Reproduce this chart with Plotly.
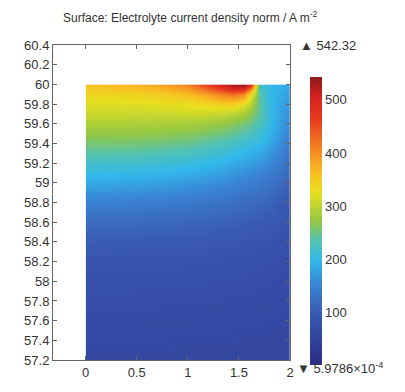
import plotly.graph_objects as go

# Sample grid of the electrolyte current density norm (A/m^2)
x_pos = [0, 0.25, 0.5, 0.75, 1.0, 1.2, 1.35, 1.45, 1.55, 1.62, 1.7, 1.8, 1.9, 2.0]
y_pos = [60.0, 59.95, 59.9, 59.8, 59.7, 59.6, 59.4, 59.2, 59.0, 58.8, 58.6, 58.4, 58.2, 58.0, 57.6, 57.2]

j_norm = [
    [360, 364, 370, 382, 410, 468, 510, 535, 542, 495, 215, 200, 190, 180],
    [348, 352, 358, 366, 385, 428, 468, 488, 478, 400, 225, 200, 188, 177],
    [336, 338, 342, 348, 362, 385, 408, 418, 400, 332, 235, 200, 185, 173],
    [318, 319, 320, 323, 328, 336, 342, 340, 322, 292, 240, 200, 180, 165],
    [305, 305, 305, 305, 306, 305, 300, 292, 282, 266, 238, 203, 178, 160],
    [288, 288, 287, 286, 283, 278, 272, 265, 256, 246, 230, 202, 175, 155],
    [255, 255, 253, 250, 245, 236, 228, 220, 213, 206, 198, 182, 162, 140],
    [218, 217, 215, 211, 205, 197, 190, 184, 178, 173, 167, 156, 141, 122],
    [183, 182, 180, 176, 171, 164, 158, 153, 148, 144, 139, 131, 120, 106],
    [148, 147, 145, 142, 138, 133, 129, 125, 122, 119, 116, 110, 102, 93],
    [120, 119, 118, 116, 113, 110, 107, 105, 103, 101, 99, 95, 89, 83],
    [100, 99, 98, 97, 95, 93, 91, 89, 88, 87, 85, 83, 79, 75],
    [86, 86, 85, 84, 83, 81, 80, 79, 78, 77, 76, 74, 72, 69],
    [77, 77, 76, 76, 75, 74, 73, 72, 72, 71, 70, 69, 67, 65],
    [66, 66, 66, 65, 65, 64, 64, 63, 63, 63, 62, 62, 61, 60],
    [58, 58, 58, 58, 57, 57, 57, 57, 56, 56, 56, 56, 55, 55],
]

j_max = 542.32
j_min = 5.9786e-4

y_ticks = [57.2, 57.4, 57.6, 57.8, 58.0, 58.2, 58.4, 58.6, 58.8, 59.0, 59.2, 59.4, 59.6, 59.8, 60.0, 60.2, 60.4]
y_tick_text = ["57.2", "57.4", "57.6", "57.8", "58", "58.2", "58.4", "58.6", "58.8", "59",
               "59.2", "59.4", "59.6", "59.8", "60", "60.2", "60.4"]
x_ticks = [0, 0.5, 1, 1.5, 2]
x_tick_text = ["0", "0.5", "1", "1.5", "2"]
cbar_ticks = [100, 200, 300, 400, 500]

rainbow = [
    [0.00, "#2b2c7e"],
    [0.10, "#3346a0"],
    [0.18, "#3a5ab2"],
    [0.28, "#3a84d4"],
    [0.36, "#32b8ec"],
    [0.43, "#52c2b4"],
    [0.50, "#94c844"],
    [0.60, "#e8e020"],
    [0.66, "#f8c222"],
    [0.74, "#f58c22"],
    [0.85, "#e83c20"],
    [0.93, "#d62020"],
    [1.00, "#8c1c1c"],
]

font = dict(family="Liberation Sans, Arial, sans-serif", size=13, color="#333333")

fig = go.Figure(
    go.Contour(
        x=x_pos,
        y=y_pos,
        z=j_norm,
        zmin=j_min,
        zmax=j_max,
        colorscale=rainbow,
        contours=dict(coloring="heatmap", showlines=False),
        ncontours=80,
        line=dict(width=0),
        colorbar=dict(
            x=1.084,
            xanchor="left",
            y=0.44,
            yanchor="middle",
            len=288,
            lenmode="pixels",
            thickness=12,
            outlinewidth=0,
            tickvals=cbar_ticks,
            ticks="",
            ticklabelposition="outside",
            tickfont=font,
            xpad=0,
            ypad=0,
        ),
        hoverinfo="skip",
    )
)

axis_common = dict(
    showgrid=False,
    zeroline=False,
    showline=True,
    linecolor="#666666",
    linewidth=1,
    mirror="ticks",
    ticks="inside",
    ticklen=4,
    tickcolor="#666666",
    tickfont=font,
)

fig.update_layout(
    width=405,
    height=392,
    margin=dict(l=53, r=115, t=45, b=22),
    paper_bgcolor="white",
    plot_bgcolor="white",
    showlegend=False,
    xaxis=dict(range=[-0.32, 2.0], tickvals=x_ticks, ticktext=x_tick_text, **axis_common),
    yaxis=dict(range=[57.2, 60.4], tickvals=y_ticks, ticktext=y_tick_text, **axis_common),
    font=font,
    annotations=[
        dict(
            text="Surface: Electrolyte current density norm / A m<sup>-2</sup>",
            xref="paper", yref="paper", x=(190 - 53) / 237, y=1 + (45 - 16) / 325,
            xanchor="center", yanchor="middle", showarrow=False,
            font=dict(family=font["family"], size=12, color="#333333"),
        ),
        dict(
            text="▲ " + f"{j_max:.2f}",
            xref="paper", yref="paper", x=(298 - 53) / 237, y=1.0,
            xanchor="left", yanchor="middle", showarrow=False, font=font,
        ),
        dict(
            text="▼ 5.9786×10<sup>-4</sup>",
            xref="paper", yref="paper", x=(295 - 53) / 237, y=-(378 - 370) / 325,
            xanchor="left", yanchor="middle", showarrow=False, font=font,
        ),
    ],
)

fig.write_html("out.html")
